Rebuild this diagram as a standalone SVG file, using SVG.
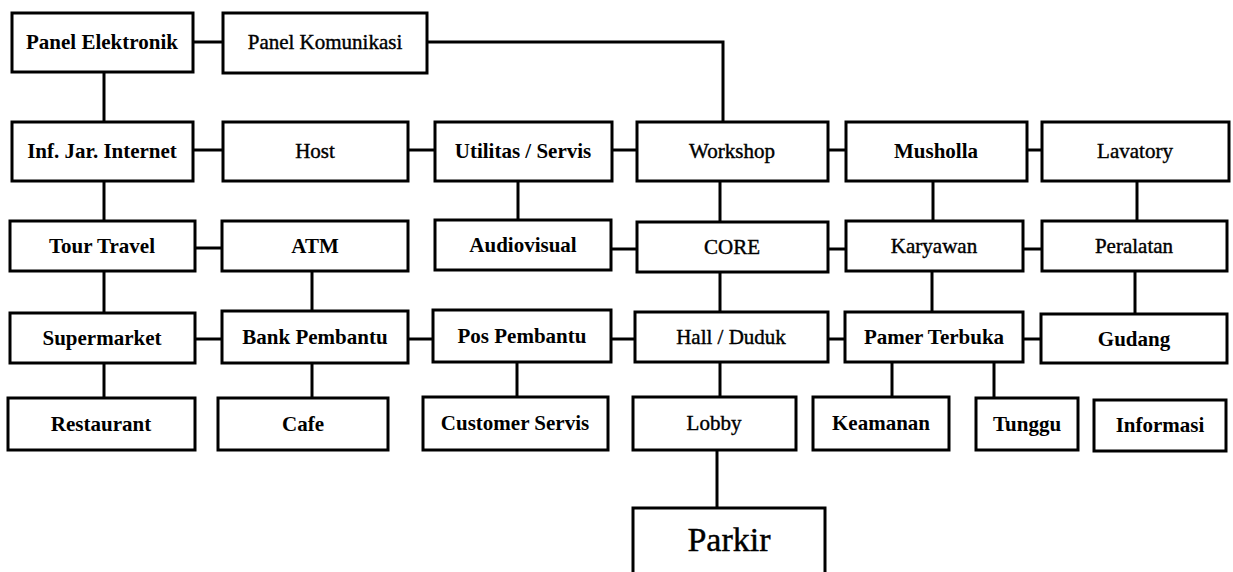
<svg xmlns="http://www.w3.org/2000/svg" width="1233" height="572" viewBox="0 0 1233 572">
<style>
.b{fill:#fff;stroke:#000;stroke-width:3}
.t{font-family:"Liberation Serif","Times New Roman",serif;font-size:21px;font-weight:bold;text-anchor:middle;fill:#000}
.n{font-weight:normal;stroke:#000;stroke-width:0.4}
.c{fill:none;stroke:#000;stroke-width:3}
</style>
<rect width="1233" height="572" fill="#fff"/>
<g id="connectors">
<path class="c" d="M193,42 H223"/>
<path class="c" d="M427,42 H723 V122"/>
<path class="c" d="M104,72 V122"/>
<path class="c" d="M193,150 H223"/>
<path class="c" d="M408,150 H435"/>
<path class="c" d="M612,150 H637"/>
<path class="c" d="M828,150 H846"/>
<path class="c" d="M1027,150 H1042"/>
<path class="c" d="M104,181 V221"/>
<path class="c" d="M518,181 V220"/>
<path class="c" d="M720,181 V222"/>
<path class="c" d="M933,181 V221"/>
<path class="c" d="M1137,181 V221"/>
<path class="c" d="M195,248 H222"/>
<path class="c" d="M611,249 H637"/>
<path class="c" d="M828,249 H846"/>
<path class="c" d="M1023,249 H1042"/>
<path class="c" d="M104,271 V313"/>
<path class="c" d="M312,271 V311"/>
<path class="c" d="M720,272 V312"/>
<path class="c" d="M932,270 V312"/>
<path class="c" d="M1135,271 V314"/>
<path class="c" d="M195,339 H222"/>
<path class="c" d="M408,339 H433"/>
<path class="c" d="M611,339 H635"/>
<path class="c" d="M828,339 H845"/>
<path class="c" d="M1023,339 H1041"/>
<path class="c" d="M104,363 V398"/>
<path class="c" d="M312,363 V398"/>
<path class="c" d="M517,362 V397"/>
<path class="c" d="M720,362 V397"/>
<path class="c" d="M892,362 V397"/>
<path class="c" d="M994,362 V398"/>
<path class="c" d="M717,450 V508"/>
</g>
<g id="panel-elektronik"><rect class="b" x="12" y="13" width="181" height="59"/><text class="t" x="102" y="49">Panel Elektronik</text></g>
<g id="panel-komunikasi"><rect class="b" x="223" y="13" width="204" height="60"/><text class="t n" x="325" y="49">Panel Komunikasi</text></g>
<g id="inf-jar-internet"><rect class="b" x="12" y="122" width="181" height="59"/><text class="t" x="102" y="158">Inf. Jar. Internet</text></g>
<g id="host"><rect class="b" x="223" y="122" width="185" height="59"/><text class="t n" x="315" y="158">Host</text></g>
<g id="utilitas-servis"><rect class="b" x="435" y="122" width="177" height="59"/><text class="t" x="523" y="158">Utilitas / Servis</text></g>
<g id="workshop"><rect class="b" x="637" y="122" width="191" height="59"/><text class="t n" x="732" y="158">Workshop</text></g>
<g id="musholla"><rect class="b" x="846" y="122" width="181" height="59"/><text class="t" x="936" y="158">Musholla</text></g>
<g id="lavatory"><rect class="b" x="1042" y="122" width="187" height="59"/><text class="t n" x="1135" y="158">Lavatory</text></g>
<g id="tour-travel"><rect class="b" x="10" y="221" width="185" height="50"/><text class="t" x="102" y="253">Tour Travel</text></g>
<g id="atm"><rect class="b" x="222" y="221" width="186" height="50"/><text class="t" x="315" y="253">ATM</text></g>
<g id="audiovisual"><rect class="b" x="435" y="220" width="176" height="50"/><text class="t" x="523" y="252">Audiovisual</text></g>
<g id="core"><rect class="b" x="637" y="222" width="191" height="50"/><text class="t n" x="732" y="254">CORE</text></g>
<g id="karyawan"><rect class="b" x="846" y="221" width="177" height="50"/><text class="t n" x="934" y="253">Karyawan</text></g>
<g id="peralatan"><rect class="b" x="1042" y="221" width="185" height="50"/><text class="t n" x="1134" y="253">Peralatan</text></g>
<g id="supermarket"><rect class="b" x="10" y="313" width="185" height="50"/><text class="t" x="102" y="345">Supermarket</text></g>
<g id="bank-pembantu"><rect class="b" x="222" y="311" width="186" height="52"/><text class="t" x="315" y="344">Bank Pembantu</text></g>
<g id="pos-pembantu"><rect class="b" x="433" y="310" width="178" height="52"/><text class="t" x="522" y="343">Pos Pembantu</text></g>
<g id="hall-duduk"><rect class="b" x="635" y="312" width="193" height="50"/><text class="t n" x="731" y="344">Hall / Duduk</text></g>
<g id="pamer-terbuka"><rect class="b" x="845" y="312" width="178" height="50"/><text class="t" x="934" y="344">Pamer Terbuka</text></g>
<g id="gudang"><rect class="b" x="1041" y="314" width="186" height="49"/><text class="t" x="1134" y="346">Gudang</text></g>
<g id="restaurant"><rect class="b" x="8" y="398" width="187" height="52"/><text class="t" x="101" y="431">Restaurant</text></g>
<g id="cafe"><rect class="b" x="218" y="398" width="170" height="52"/><text class="t" x="303" y="431">Cafe</text></g>
<g id="customer-servis"><rect class="b" x="423" y="397" width="185" height="53"/><text class="t" x="515" y="430">Customer Servis</text></g>
<g id="lobby"><rect class="b" x="633" y="397" width="163" height="53"/><text class="t n" x="714" y="430">Lobby</text></g>
<g id="keamanan"><rect class="b" x="813" y="397" width="136" height="53"/><text class="t" x="881" y="430">Keamanan</text></g>
<g id="tunggu"><rect class="b" x="976" y="398" width="102" height="52"/><text class="t" x="1027" y="431">Tunggu</text></g>
<g id="informasi"><rect class="b" x="1094" y="400" width="132" height="51"/><text class="t" x="1160" y="432">Informasi</text></g>
<g id="parkir"><rect class="b" x="633" y="508" width="192" height="100"/><text class="t n" x="729" y="551" style="font-size:34px">Parkir</text></g>
</svg>
